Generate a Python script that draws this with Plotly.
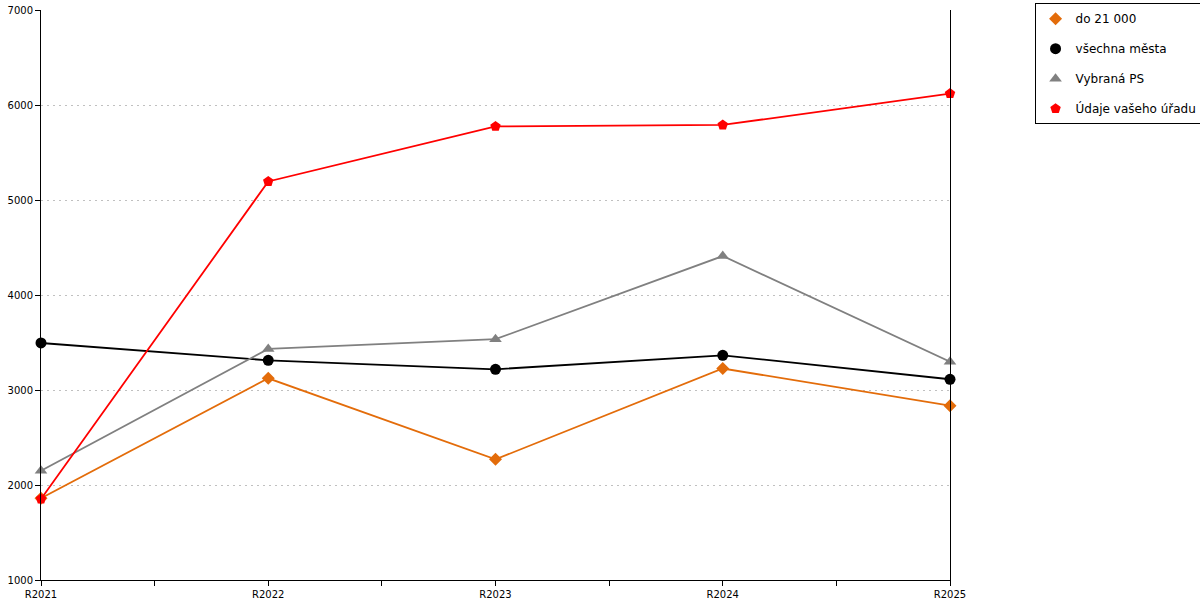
import plotly.graph_objects as go

# ---- data ----
years = ["R2021", "R2022", "R2023", "R2024", "R2025"]

do_21000 = [1860, 3123, 2270, 3226, 2835]
vsechna_mesta = [3495, 3312, 3218, 3365, 3113]
vybrana_ps = [2150, 3432, 3535, 4410, 3298]
vas_urad = [1853, 5195, 5775, 5790, 6120]

y_ticks = [1000, 2000, 3000, 4000, 5000, 6000, 7000]

series = [
    ("do 21 000", do_21000, "#E36C0A", "diamond", 10),
    ("všechna města", vsechna_mesta, "#000000", "circle", 11),
    ("Vybraná PS", vybrana_ps, "#808080", "triangle-up", 11),
    ("Údaje vašeho úřadu", vas_urad, "#FF0000", "pentagon", 11),
]

xpos = list(range(len(years)))

fig = go.Figure()
for i, (name, vals, col, sym, size) in enumerate(series):
    fig.add_trace(go.Scatter(
        x=xpos, y=vals, mode="lines+markers", name=name,
        line=dict(color=col, width=1.8),
        marker=dict(color=col, symbol=sym, size=size),
        cliponaxis=False, showlegend=False,
    ))
    # marker-only entry for the legend
    fig.add_trace(go.Scatter(
        x=[None], y=[None], mode="markers", name=name,
        marker=dict(color=col, symbol=sym, size=size),
        legendgroup="g%d" % i, showlegend=True,
    ))

# major ticks at the categories, unlabeled ticks in between
tickvals = []
ticktext = []
for i, lab in enumerate(years):
    tickvals.append(i)
    ticktext.append(lab)
    if i < len(years) - 1:
        tickvals.append(i + 0.5)
        ticktext.append("")

fig.update_layout(
    width=1200, height=600,
    margin=dict(l=41, r=250, t=10, b=20, autoexpand=False),
    paper_bgcolor="white", plot_bgcolor="white",
    font=dict(family="DejaVu Sans", size=10, color="#000000"),
    legend=dict(
        x=1.093, y=1.012, xanchor="left", yanchor="top",
        bordercolor="#000000", borderwidth=1, bgcolor="white",
        font=dict(size=12), tracegroupgap=11,
    ),
    xaxis=dict(
        range=[0, len(years) - 1],
        tickvals=tickvals, ticktext=ticktext,
        showgrid=False, zeroline=False, automargin=False,
        showline=True, linecolor="#000000", linewidth=1,
        ticks="outside", ticklen=5, tickcolor="#000000",
        tickfont=dict(size=10),
    ),
    yaxis=dict(
        range=[1000, 7000],
        tickvals=y_ticks, automargin=False,
        showgrid=True, gridcolor="#c0c0c0", griddash="2px,4px", gridwidth=1,
        zeroline=False,
        showline=True, linecolor="#000000", linewidth=1, mirror=True,
        ticks="outside", ticklen=5, tickcolor="#000000",
        tickfont=dict(size=10),
    ),
)

# drop the default page margin so the figure sits at the window corner
fig.write_html("out.html", config={"displayModeBar": False},
               post_script="document.body.style.margin='0px';document.body.style.overflow='hidden';")
